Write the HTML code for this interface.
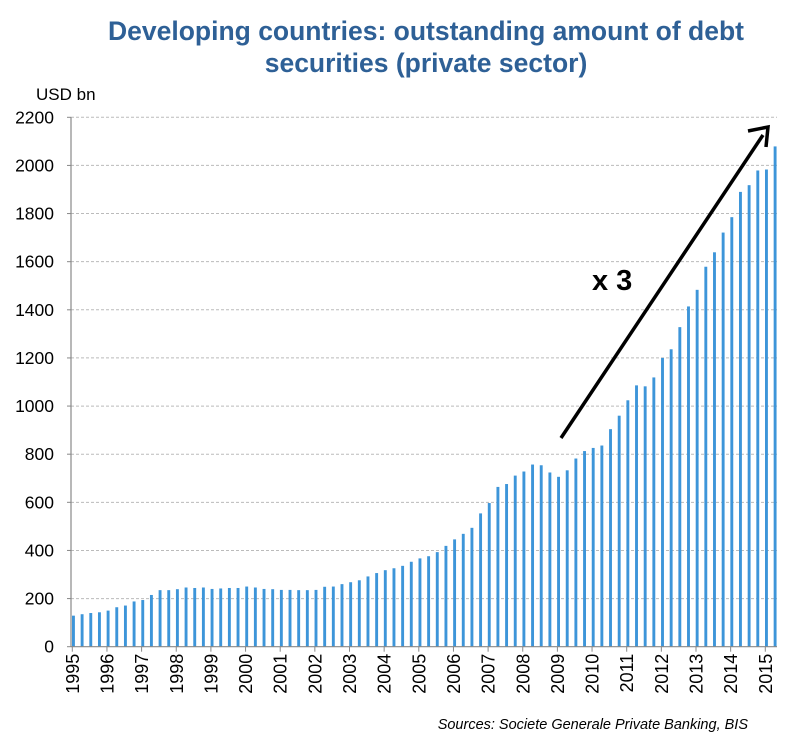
<!DOCTYPE html>
<html><head><meta charset="utf-8"><style>
html,body{margin:0;padding:0;background:#fff;}
svg{display:block;font-family:"Liberation Sans",Arial,sans-serif;}
</style></head><body>
<svg id="chart" width="795" height="739" viewBox="0 0 795 739">
<text x="426" y="40" text-anchor="middle" font-size="26.5" font-weight="bold" fill="#2e6096">Developing countries: outstanding amount of debt</text>
<text x="426" y="72" text-anchor="middle" font-size="26.5" font-weight="bold" fill="#2e6096">securities (private sector)</text>
<text x="36" y="100" font-size="17" fill="#000">USD bn</text>
<g id="grid"></g><g id="bars"></g><g id="axes"></g>
<g>
<line x1="561" y1="438" x2="763" y2="135" stroke="#000" stroke-width="3.5"/>
<polyline points="748,131 768,127 766,147" fill="none" stroke="#000" stroke-width="3.5" stroke-linejoin="miter"/>
</g>
<text x="592" y="290" font-size="29" font-weight="bold" fill="#000">x 3</text>
<text x="748" y="729" text-anchor="end" font-size="14.5" font-style="italic" fill="#000">Sources: Societe Generale Private Banking, BIS</text>
</svg>
<script>
const years = [1995,1996,1997,1998,1999,2000,2001,2002,2003,2004,2005,2006,2007,2008,2009,2010,2011,2012,2013,2014,2015];
const yTicks = [0,200,400,600,800,1000,1200,1400,1600,1800,2000,2200];
const debtValues = [129,135,140,143, 150,164,171,188, 194,215,235,235, 239,246,244,246, 240,242,244,244, 250,246,240,239, 236,236,235,235, 236,249,250,260, 268,276,292,306, 318,326,336,353, 367,376,393,419, 446,469,494,554, 597,664,676,711, 728,757,754,724, 706,733,782,813, 826,836,904,960, 1024,1086,1082,1119, 1200,1236,1328,1414, 1483,1579,1639,1721, 1785,1890,1918,1979, 1983,2079];
const NS="http://www.w3.org/2000/svg";
const x0=72.3, yearW=34.65, qW=yearW/4, y0=646.7, yMax=2200, yTop=117.3;
function xScale(i){return x0+1+i*qW;}
function yScale(v){return y0-(v/yMax)*(y0-yTop);}
function mk(tag,attrs,parent){const e=document.createElementNS(NS,tag);for(const k in attrs)e.setAttribute(k,attrs[k]);parent.appendChild(e);return e;}
const grid=document.getElementById('grid'),bars=document.getElementById('bars'),axes=document.getElementById('axes');
yTicks.forEach(t=>{
  const y=yScale(t);
  if(t>0){const g=mk('line',{x1:71,x2:777,y1:y,y2:y,stroke:'#bbb','stroke-width':1,'stroke-dasharray':'3,2'},grid);
  
  }
  mk('line',{x1:67,x2:71,y1:y,y2:y,stroke:'#888','stroke-width':1},axes);
  const l=mk('text',{x:54,y:y+6,'text-anchor':'end','font-size':17.5,fill:'#000'},axes);
  l.textContent=t;
  
  
});
debtValues.forEach((v,i)=>{
  const y=yScale(v);
  const b=mk('rect',{x:xScale(i)-1.3,y:y,width:2.9,height:y0-y,fill:'#3d95d9'},bars);
  
  
});
const ax=mk('line',{x1:71,x2:71,y1:yTop,y2:y0,stroke:'#888','stroke-width':1.2},axes);


const xa=mk('line',{x1:71,x2:777,y1:y0,y2:y0,stroke:'#888','stroke-width':1.2},axes);


years.forEach((yr,j)=>{
  const x=x0+j*yearW;
  mk('line',{x1:x,x2:x,y1:y0,y2:y0+5,stroke:'#888','stroke-width':1},axes);
  const t=mk('text',{x:0,y:0,'text-anchor':'end','font-size':18,fill:'#000',transform:`translate(${x+6.5},${y0+7}) rotate(-90)`},axes);
  t.textContent=yr;
  
  
});
</script>
</body></html>
